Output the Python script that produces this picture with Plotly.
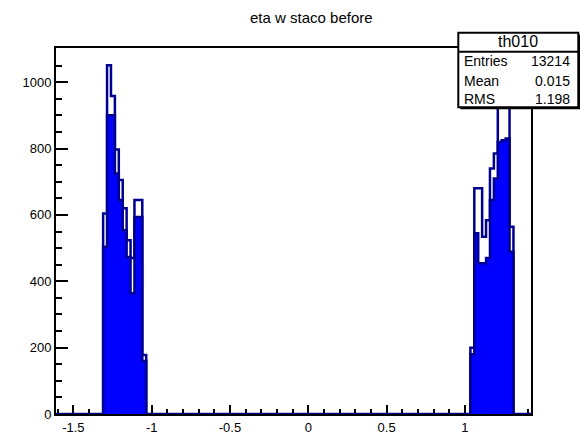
import plotly.graph_objects as go

# ---------------- data ----------------
BIN_WIDTH = 0.025
left_bin_lo = [-1.310, -1.285, -1.260, -1.235, -1.210, -1.185, -1.160, -1.135, -1.110, -1.085, -1.060]
right_bin_lo = [1.035, 1.060, 1.085, 1.110, 1.135, 1.160, 1.185, 1.210, 1.235, 1.260, 1.285]

left_outline = [604, 1051, 958, 797, 705, 620, 524, 470, 645, 645, 178]
left_filled = [504, 900, 900, 725, 645, 554, 473, 364, 594, 594, 160]
right_outline = [200, 680, 680, 534, 584, 740, 785, 960, 1000, 1040, 564]
right_filled = [180, 545, 454, 454, 470, 645, 710, 820, 825, 830, 489]

x_ticks = [-1.5, -1, -0.5, 0, 0.5, 1]
x_tick_labels = ["-1.5", "-1", "-0.5", "0", "0.5", "1"]
y_ticks = [0, 200, 400, 600, 800, 1000]
y_tick_labels = ["0", "200", "400", "600", "800", "1000"]

X_RANGE = [-1.611, 1.422]
Y_RANGE = [0, 1103]

title_text = "eta w staco before"
stats_name = "th010"
stats_rows = [("Entries", "13214"), ("Mean", "0.015"), ("RMS", "1.198")]

# ---------------- helpers ----------------
def step_path(lows, counts):
    xs, ys = [lows[0]], [0]
    for lo, c in zip(lows, counts):
        xs += [lo, lo + BIN_WIDTH]
        ys += [c, c]
    xs.append(lows[-1] + BIN_WIDTH)
    ys.append(0)
    return xs, ys

lx_o, ly_o = step_path(left_bin_lo, left_outline)
rx_o, ry_o = step_path(right_bin_lo, right_outline)
lx_f, ly_f = step_path(left_bin_lo, left_filled)
rx_f, ry_f = step_path(right_bin_lo, right_filled)

NAVY = "#000090"
BLUE = "#0000ff"
FONT = "Liberation Sans, Arial, Helvetica, sans-serif"

fig = go.Figure()

# filled histogram
for xs, ys in ((lx_f, ly_f), (rx_f, ry_f)):
    fig.add_trace(go.Scatter(x=xs, y=ys, mode="lines", fill="tozeroy",
                             fillcolor=BLUE, line=dict(color=NAVY, width=2.5),
                             hoverinfo="skip", showlegend=False))
# outline histogram over whole range
ox = [X_RANGE[0]] + lx_o + rx_o + [X_RANGE[1]]
oy = [0] + ly_o + ry_o + [0]
fig.add_trace(go.Scatter(x=ox, y=oy, mode="lines",
                         line=dict(color=NAVY, width=2.5),
                         hoverinfo="skip", showlegend=False))

# ---------------- layout ----------------
L, R, T, B = 56, 531, 48, 414
W, H = 580, 437

def px(xp):
    return (xp - L) / (R - L)

def py(yp):
    return (B - yp) / (B - T)

shapes = []
shapes.append(dict(type="rect", xref="paper", yref="paper",
                   x0=px(460.3), x1=px(580.3), y0=py(109.3), y1=py(34.7),
                   fillcolor="black", line=dict(width=0), layer="above"))
shapes.append(dict(type="rect", xref="paper", yref="paper",
                   x0=px(458.3), x1=px(578.3), y0=py(107.3), y1=py(32.7),
                   fillcolor="white", line=dict(color="black", width=2), layer="above"))
shapes.append(dict(type="line", xref="paper", yref="paper",
                   x0=px(458.3), x1=px(578.3), y0=py(51.7), y1=py(51.7),
                   line=dict(color="black", width=2), layer="above"))

annotations = [
    dict(text=title_text, xref="paper", yref="paper", x=px(311), y=py(18),
         xanchor="center", yanchor="middle", showarrow=False,
         font=dict(family=FONT, size=15, color="black")),
    dict(text=stats_name, xref="paper", yref="paper", x=px(518.3), y=py(41.7),
         xanchor="center", yanchor="middle", showarrow=False,
         font=dict(family=FONT, size=16, color="black")),
]
row_y = [61.5, 80.5, 98.5]
for (lab, val), yy in zip(stats_rows, row_y):
    annotations.append(dict(text=lab, xref="paper", yref="paper", x=px(462), y=py(yy),
                            xanchor="left", yanchor="middle", showarrow=False,
                            font=dict(family=FONT, size=14, color="black")))
    annotations.append(dict(text=val, xref="paper", yref="paper", x=px(572), y=py(yy),
                            xanchor="right", yanchor="middle", showarrow=False,
                            font=dict(family=FONT, size=14, color="black")))

fig.update_layout(
    template="none",
    width=W, height=H, autosize=False,
    margin=dict(l=L, r=W - R, t=T, b=H - B, pad=0),
    paper_bgcolor="white", plot_bgcolor="white",
    showlegend=False,
    shapes=shapes, annotations=annotations,
    xaxis=dict(range=X_RANGE, showgrid=False, zeroline=False,
               showline=True, mirror=True, linecolor="black", linewidth=2,
               ticks="inside", ticklen=9, tickwidth=2, tickcolor="black",
               tickvals=x_ticks, ticktext=x_tick_labels,
               minor=dict(ticks="inside", ticklen=5, tickwidth=2, tickcolor="black", dtick=0.1, tick0=0),
               tickfont=dict(family=FONT, size=13, color="black"),
               automargin=False, layer="below traces", fixedrange=True),
    yaxis=dict(range=Y_RANGE, showgrid=False, zeroline=False,
               showline=True, mirror=True, linecolor="black", linewidth=2,
               ticks="inside", ticklen=12, tickwidth=2, tickcolor="black",
               tickvals=y_ticks, ticktext=y_tick_labels,
               minor=dict(ticks="inside", ticklen=6, tickwidth=2, tickcolor="black", dtick=50, tick0=0),
               tickfont=dict(family=FONT, size=13, color="black"),
               automargin=False, layer="below traces", fixedrange=True),
)

fig.write_html("out.html", config={"displayModeBar": False},
               post_script="document.body.style.margin='0';document.body.style.overflow='hidden';")
